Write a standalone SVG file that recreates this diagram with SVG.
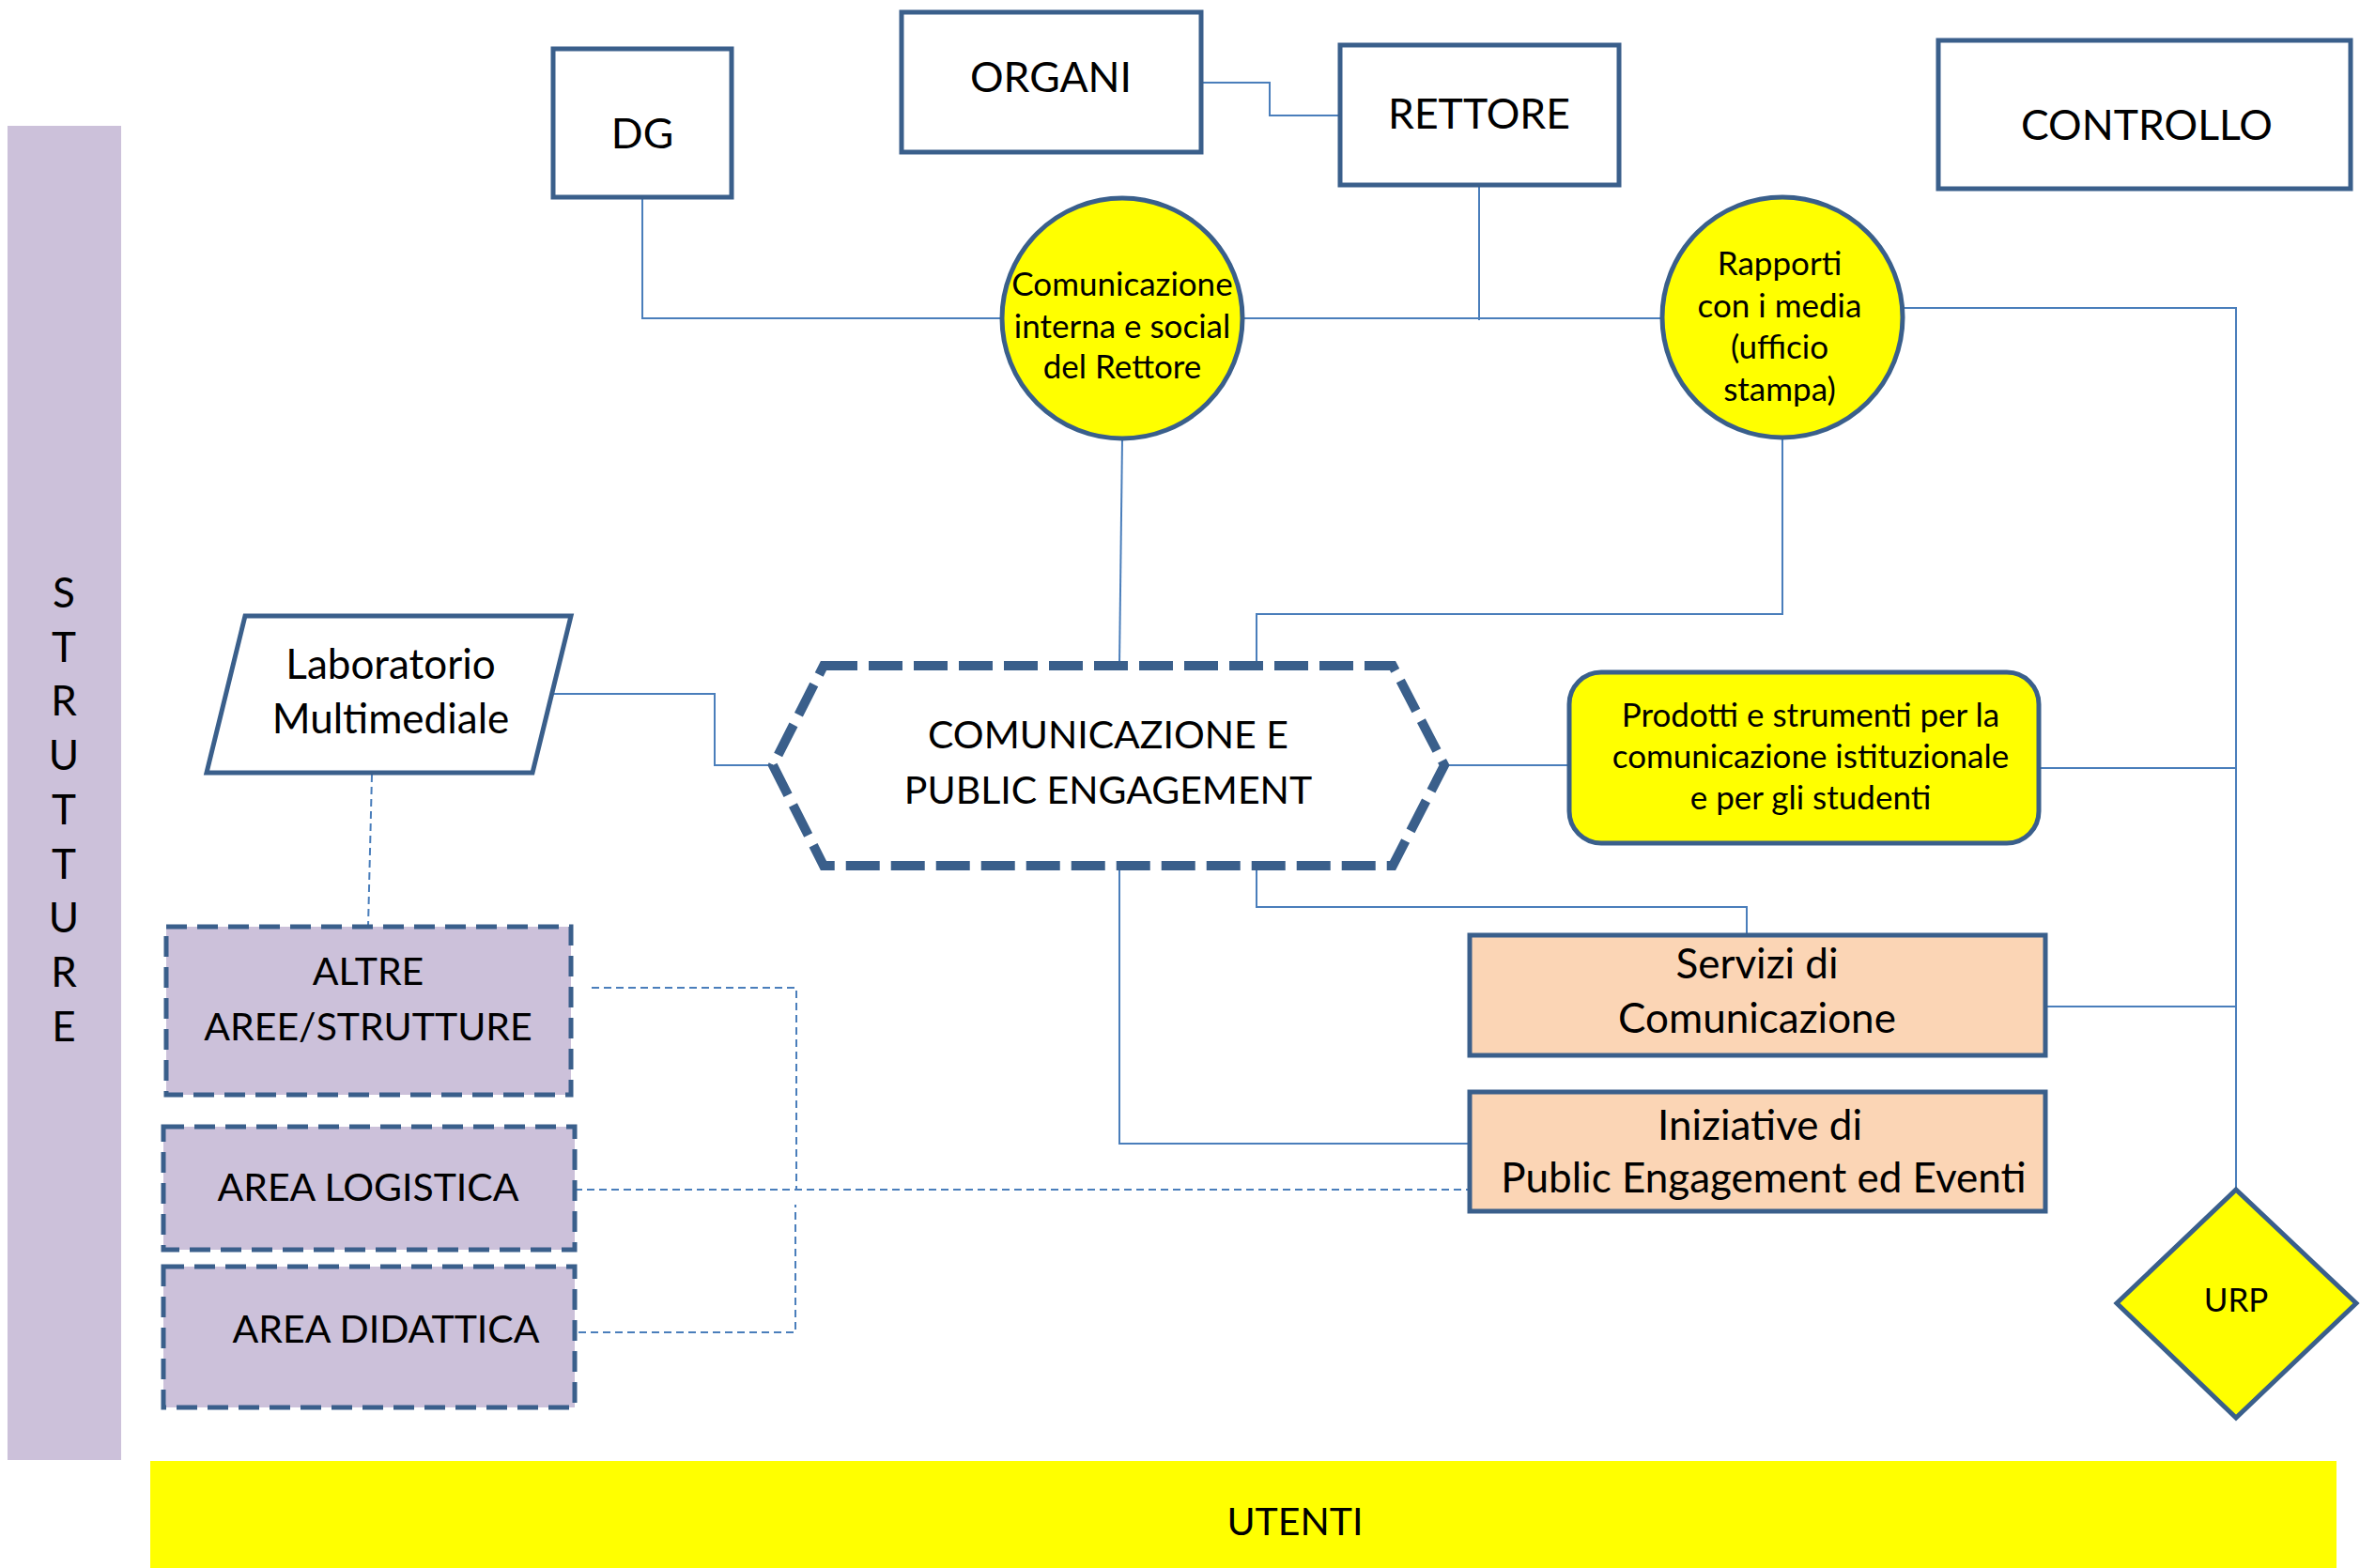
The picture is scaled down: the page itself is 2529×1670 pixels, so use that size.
<svg xmlns="http://www.w3.org/2000/svg" width="2529" height="1670" viewBox="0 0 2529 1670">
<style>
text{font-family:Lato,"Liberation Sans",sans-serif;fill:#000;text-anchor:middle}
.big{font-size:44.5px}
.mid{font-size:44px}
.cap{font-size:41px}
.sm{font-size:35px}
.box{fill:#fff;stroke:#3A5F8B;stroke-width:5}
.yel{fill:#FFFF00;stroke:#3A5F8B;stroke-width:5}
.peach{fill:#FBD5B5;stroke:#3A5F8B;stroke-width:5}
.lav{fill:#CCC1DA;stroke:#3A5F8B;stroke-width:5;stroke-dasharray:22 11}
.con{fill:none;stroke:#4A7EBB;stroke-width:2}
.dcon{fill:none;stroke:#4A7EBB;stroke-width:2;stroke-dasharray:8 5}
</style>
<rect x="8" y="134" width="121" height="1421" fill="#CCC1DA"/>
<g id="strutture" class="mid">
<text x="68" y="647">S</text><text x="68" y="705">T</text><text x="68" y="762">R</text><text x="68" y="820">U</text><text x="68" y="878">T</text><text x="68" y="936">T</text><text x="68" y="993">U</text><text x="68" y="1051">R</text><text x="68" y="1109">E</text>
</g>
<g id="connectors">
<path class="con" d="M684 210V339H1066"/>
<path class="con" d="M1323 339H1769"/>
<path class="con" d="M1575 197V341"/>
<path class="con" d="M1279 88H1352V123H1427"/>
<path class="con" d="M2027 328H2381V1266"/>
<path class="con" d="M1195 468L1192 709"/>
<path class="con" d="M1898 468V654H1338V709"/>
<path class="con" d="M590 739H761V815H823"/>
<path class="con" d="M1538 815H1671"/>
<path class="con" d="M2171 818H2381"/>
<path class="con" d="M1338 922V966H1860V996"/>
<path class="con" d="M2179 1072H2381"/>
<path class="con" d="M1192 922V1218H1565"/>
<path class="dcon" d="M396 825L392 987"/>
<path class="dcon" d="M630 1052H848V1267"/>
<path class="dcon" d="M612 1267H1565"/>
<path class="dcon" d="M616 1419H847V1283"/>
</g>
<g id="dg"><rect class="box" x="589" y="52" width="190" height="158"/><text class="big" x="684" y="158">DG</text></g>
<g id="organi"><rect class="box" x="960" y="13" width="319" height="149"/><text class="big" x="1119" y="98">ORGANI</text></g>
<g id="rettore"><rect class="box" x="1427" y="48" width="297" height="149"/><text class="big" x="1575" y="137">RETTORE</text></g>
<g id="controllo"><rect class="box" x="2064" y="43" width="439" height="158"/><text class="big" x="2286" y="149">CONTROLLO</text></g>
<g id="comunicazione-interna"><circle class="yel" cx="1195" cy="339" r="128"/><text class="sm" x="1195" y="315">Comunicazione</text><text class="sm" x="1195" y="360">interna e social</text><text class="sm" x="1195" y="403">del Rettore</text></g>
<g id="rapporti-media"><circle class="yel" cx="1898" cy="338" r="128"/><text class="sm" x="1895" y="293">Rapporti</text><text class="sm" x="1895" y="338">con i media</text><text class="sm" x="1895" y="382">(ufficio</text><text class="sm" x="1895" y="427">stampa)</text></g>
<g id="comunicazione-pe"><polygon points="877,709 1483,709 1538,815 1483,922 877,922 823,815" fill="#fff" stroke="#3A5F8B" stroke-width="10" stroke-dasharray="36 12"/><text class="cap" x="1180" y="797">COMUNICAZIONE E</text><text class="cap" x="1180" y="856">PUBLIC ENGAGEMENT</text></g>
<g id="laboratorio"><polygon class="box" points="261,656 608,656 567,823 220,823"/><text class="mid" x="416" y="723">Laboratorio</text><text class="mid" x="416" y="781">Multimediale</text></g>
<g id="altre"><rect class="lav" x="177" y="987" width="431" height="179"/><text class="cap" x="392" y="1049">ALTRE</text><text class="cap" x="392" y="1108">AREE/STRUTTURE</text></g>
<g id="logistica"><rect class="lav" x="174" y="1200" width="438" height="131"/><text class="cap" x="392" y="1279" font-size="40.5">AREA LOGISTICA</text></g>
<g id="didattica"><rect class="lav" x="174" y="1349" width="438" height="150"/><text class="cap" x="411" y="1430" font-size="40">AREA DIDATTICA</text></g>
<g id="prodotti"><rect class="yel" x="1671" y="716" width="500" height="182" rx="34"/><text class="sm" x="1928" y="774">Prodotti e strumenti per la</text><text class="sm" x="1928" y="818">comunicazione istituzionale</text><text class="sm" x="1928" y="862">e per gli studenti</text></g>
<g id="servizi"><rect class="peach" x="1565" y="996" width="613" height="128"/><text class="mid" x="1871" y="1042">Servizi di</text><text class="mid" x="1871" y="1100">Comunicazione</text></g>
<g id="iniziative"><rect class="peach" x="1565" y="1163" width="613" height="127"/><text class="mid" x="1874" y="1214">Iniziative di</text><text class="mid" x="1878" y="1270">Public Engagement ed Eventi</text></g>
<g id="urp"><polygon class="yel" points="2381,1267 2509,1388 2381,1510 2254,1388"/><text class="sm" x="2381" y="1397">URP</text></g>
<g id="utenti"><rect x="160" y="1556" width="2328" height="114" fill="#FFFF00"/><text class="cap" x="1379" y="1635" font-size="40">UTENTI</text></g>
</svg>
